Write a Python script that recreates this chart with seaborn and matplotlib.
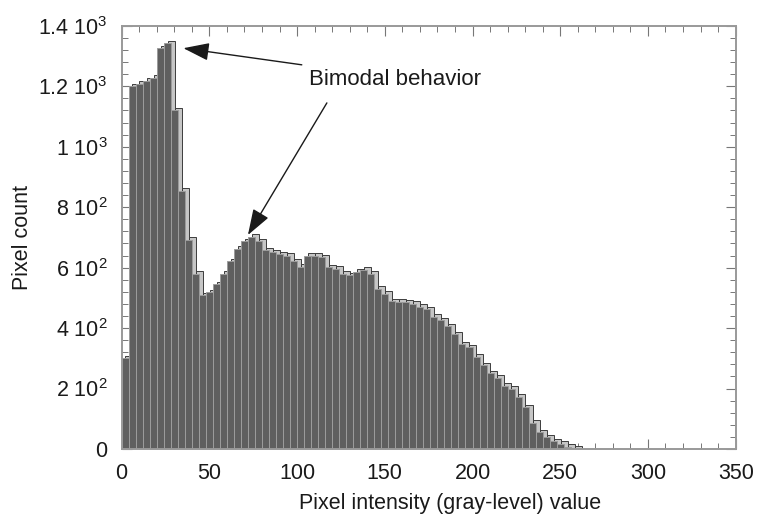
import numpy as np
import pandas as pd
import matplotlib
matplotlib.use("Agg")
import matplotlib.pyplot as plt
import seaborn as sns
from matplotlib.ticker import MultipleLocator, FixedLocator, FixedFormatter

# ---- data ----
bin_width = 4
bin_starts = np.arange(0, 260, bin_width)
pixel_counts = [
    300, 1200, 1208, 1218, 1228, 1325, 1342, 1120, 855, 692,
    580, 508, 518, 545, 580, 622, 662, 688, 703, 688,
    657, 652, 644, 640, 622, 603, 640, 640, 634, 601,
    596, 580, 575, 586, 593, 580, 530, 514, 489, 487,
    485, 481, 471, 463, 438, 426, 407, 379, 346, 336,
    306, 277, 250, 236, 209, 199, 173, 138, 87, 56,
    39, 25, 18, 8, 3,
]
y_ticks = [0, 200, 400, 600, 800, 1000, 1200, 1400]
y_tick_labels = ["0", r"2 $\mathregular{10^2}$", r"4 $\mathregular{10^2}$",
                 r"6 $\mathregular{10^2}$", r"8 $\mathregular{10^2}$",
                 r"1 $\mathregular{10^3}$", r"1.2 $\mathregular{10^3}$",
                 r"1.4 $\mathregular{10^3}$"]
x_ticks = [0, 50, 100, 150, 200, 250, 300, 350]
annotation_text = "Bimodal behavior"
arrow1_tip, arrow1_tail = (35.2, 1326), (102.7, 1271)
arrow2_tip, arrow2_tail = (72.0, 708), (117.0, 1145)
text_pos = (106.9, 1221)

depth_x = 2.2   # 3D depth offset (gray levels)
depth_y = 8     # 3D depth offset (counts)

df = pd.DataFrame({"start": bin_starts, "count": pixel_counts})
df["center"] = df["start"] + bin_width / 2
df["back_center"] = df["center"] + depth_x
df["back_count"] = df["count"] + depth_y
x_min = float(bin_starts[0])
x_max = float(bin_starts[-1] + bin_width)

# ---- style ----
sns.set_style("white")
plt.rcParams["font.family"] = ["Liberation Sans", "DejaVu Sans"]
plt.rcParams["mathtext.fontset"] = "custom"
plt.rcParams["mathtext.rm"] = "Liberation Sans"
plt.rcParams["mathtext.it"] = "Liberation Sans:italic"
plt.rcParams["mathtext.bf"] = "Liberation Sans:bold"

fig = plt.figure(figsize=(7.6, 5.27), dpi=100)
ax = fig.add_axes([0.160, 0.148, 0.808, 0.803])

# back (depth) faces
sns.histplot(data=df, x="back_center", weights="back_count",
             binwidth=bin_width, binrange=(x_min + depth_x, x_max + depth_x),
             color="#c6c6c6", edgecolor="#3c3c3c",
             linewidth=0.7, alpha=1, ax=ax)
# front faces
sns.histplot(data=df, x="center", weights="count",
             binwidth=bin_width, binrange=(x_min, x_max),
             color="#5f5f5f", edgecolor="#9c9c9c", linewidth=0.7, alpha=1, ax=ax)

ax.set_xlim(0, 350)
ax.set_ylim(0, 1400)

ax.xaxis.set_major_locator(FixedLocator(x_ticks))
ax.xaxis.set_minor_locator(MultipleLocator(10))
ax.yaxis.set_major_locator(FixedLocator(y_ticks))
ax.yaxis.set_major_formatter(FixedFormatter(y_tick_labels))
ax.yaxis.set_minor_locator(MultipleLocator(40))

ax.tick_params(which="both", direction="in", top=True, right=True,
               bottom=True, left=True, color="#777777")
ax.tick_params(which="major", length=7, width=0.8, labelsize=15.5, pad=10,
               labelcolor="#1a1a1a")
ax.tick_params(which="minor", length=4, width=0.7)

for sp in ax.spines.values():
    sp.set_color("#999999")
    sp.set_linewidth(1.4)

ax.set_xlabel("Pixel intensity (gray-level) value", fontsize=15.5, color="#1a1a1a")
ax.xaxis.set_label_coords(0.535, -0.105)
ax.set_ylabel("Pixel count", fontsize=15.5, color="#1a1a1a", labelpad=4)

arrowprops = dict(arrowstyle="-|>,head_length=1.6,head_width=0.55",
                  color="#1a1a1a", lw=1.0, shrinkA=0, shrinkB=0)
ax.annotate("", xy=arrow1_tip, xytext=arrow1_tail, arrowprops=arrowprops)
ax.annotate("", xy=arrow2_tip, xytext=arrow2_tail, arrowprops=arrowprops)
ax.text(text_pos[0], text_pos[1], annotation_text, fontsize=16,
        ha="left", va="center", color="#1a1a1a")

fig.savefig("out.png", dpi=100)
